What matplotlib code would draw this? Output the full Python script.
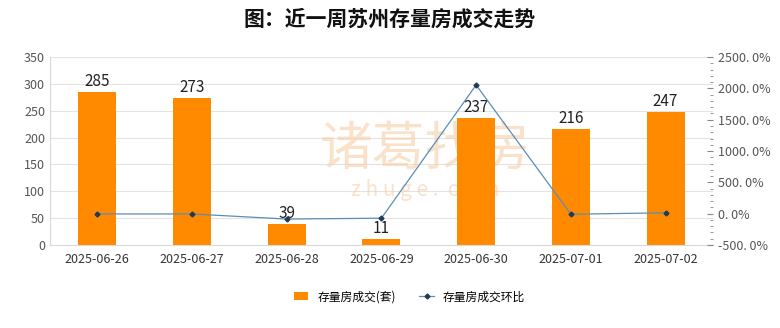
import numpy as np
import matplotlib.pyplot as plt
from matplotlib.ticker import MultipleLocator, FuncFormatter

plt.rcParams['font.family'] = ['Noto Sans CJK SC', 'DejaVu Sans']

# weekly second-hand housing deals, Suzhou
dates = ['2025-06-26', '2025-06-27', '2025-06-28', '2025-06-29',
         '2025-06-30', '2025-07-01', '2025-07-02']
deals = [285, 273, 39, 11, 237, 216, 247]
# day-over-day change, %
change_pct = [-4.0, -4.2, -85.7, -71.8, 2054.5, -8.9, 14.4]

bar_color = '#FF8A00'
line_color = '#5B8DB8'

fig = plt.figure(figsize=(7.8, 3.28), dpi=100)
fig.patch.set_facecolor('white')
ax = fig.add_axes([0.064, 0.253, 0.85, 0.573])
ax2 = ax.twinx()

x = np.arange(len(dates))

# faint watermark, kept under the bars
ax.text(0.545, 0.545, '诸葛找房', fontsize=38, color='#F7CFA8', alpha=0.6,
        ha='center', va='center', zorder=1, transform=fig.transFigure)
ax.text(0.545, 0.42, 'z h u g e .  c o m', fontsize=15, color='#F7CFA8',
        alpha=0.6, ha='center', va='center', zorder=1, transform=fig.transFigure)

bars = ax.bar(x, deals, width=0.4, color=bar_color, zorder=2,
              label='存量房成交(套)')
for xi, v in zip(x, deals):
    ax.text(xi, v + 4, str(v), ha='center', va='bottom', fontsize=11,
            color='#222222', zorder=3)

ax.set_ylim(0, 350)
ax.yaxis.set_major_locator(MultipleLocator(50))
ax.set_xlim(-0.5, len(dates) - 0.5)
ax.set_xticks(x)
ax.set_xticklabels(dates, fontsize=9, color='#333333')
ax.tick_params(axis='y', labelsize=9, colors='#555555', length=0)
ax.tick_params(axis='x', length=0, pad=6)
ax.grid(axis='y', color='#E3E3E3', linewidth=0.8, zorder=0)
ax.set_axisbelow(True)
for side in ['top', 'right']:
    ax.spines[side].set_visible(False)
ax.spines['left'].set_color('#D9D9D9')
ax.spines['bottom'].set_color('#D9D9D9')

ln, = ax2.plot(x, change_pct, color=line_color, linewidth=0.9,
               marker='D', markersize=2.5, markerfacecolor='#1F3B57',
               markeredgecolor='#1F3B57', zorder=4, label='存量房成交环比')
ax2.set_ylim(-500, 2500)
ax2.yaxis.set_major_locator(MultipleLocator(500))
ax2.yaxis.set_minor_locator(MultipleLocator(100))
ax2.yaxis.set_major_formatter(FuncFormatter(lambda v, p: f'{v:.1f}%'.replace('.', '. ')))
ax2.tick_params(axis='y', which='major', labelsize=9, colors='#555555',
                length=4, direction='in', color='#888888')
ax2.tick_params(axis='y', which='minor', length=2, direction='in', color='#888888')
for side in ['top', 'left', 'bottom', 'right']:
    ax2.spines[side].set_visible(False)

fig.suptitle('图：近一周苏州存量房成交走势', fontsize=15, y=0.975,
             color='#111111', fontweight='bold')

fig.legend(handles=[bars, ln], loc='center', bbox_to_anchor=(0.525, 0.095),
           ncol=2, frameon=False, fontsize=8.5, handlelength=1.2,
           columnspacing=2.0)

fig.savefig('out.png', dpi=100)
